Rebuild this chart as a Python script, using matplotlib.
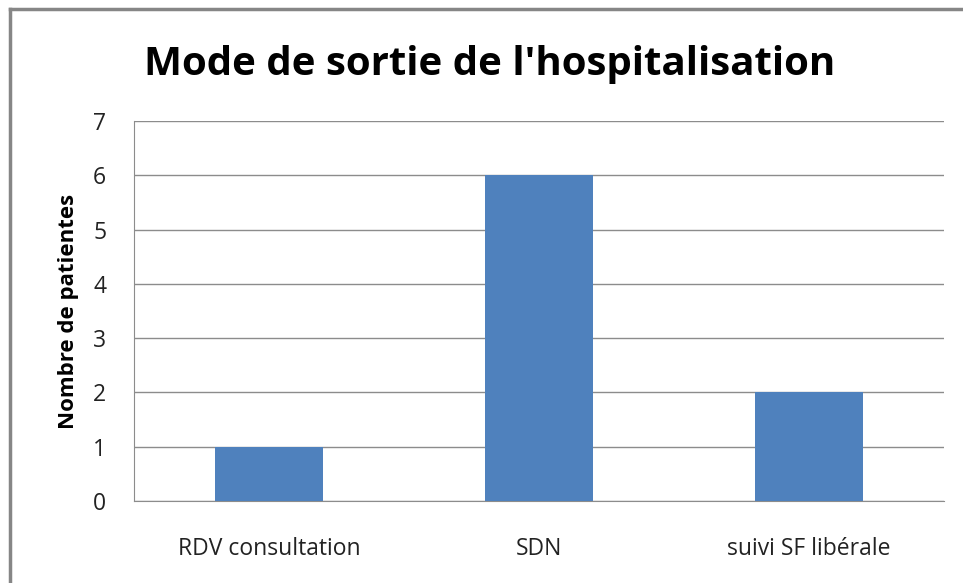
import matplotlib.pyplot as plt
from matplotlib.lines import Line2D

categories = ['RDV consultation', 'SDN', 'suivi SF libérale']
values = [1, 6, 2]
yticks = [0, 1, 2, 3, 4, 5, 6, 7]

plt.rcParams['font.family'] = ['Open Sans', 'DejaVu Sans']

fig = plt.figure(figsize=(9.63, 5.83), dpi=100)
W, H = 963, 583

# outer chart frame (only top and left visible in the crop)
fig.add_artist(Line2D([10 / W, 10 / W], [0, 1 - 9 / H], color='#868686', lw=2.5, transform=fig.transFigure))
fig.add_artist(Line2D([10 / W, 1], [1 - 9 / H, 1 - 9 / H], color='#868686', lw=2.5, transform=fig.transFigure))

ax = fig.add_axes([134 / W, (583 - 501) / H, (944 - 134) / W, (501 - 121) / H])
x = range(len(categories))
ax.bar(x, values, width=0.4, color='#4F81BD', zorder=3)

ax.set_xlim(-0.5, len(categories) - 0.5)
ax.set_ylim(0, 7)
ax.set_yticks(yticks)
ax.set_xticks(list(x))
ax.set_xticklabels(categories, fontsize=16.5, color='#222222')
ax.tick_params(axis='y', labelsize=16.5, length=0, pad=20, colors='#222222')
ax.tick_params(axis='x', length=0, pad=26)
ax.yaxis.grid(True, color='#8c8c8c', lw=1, zorder=0)

for s in ['top', 'right']:
    ax.spines[s].set_visible(False)
for s in ['left', 'bottom']:
    ax.spines[s].set_color('#8c8c8c')

ax.set_ylabel('Nombre de patientes', fontsize=16, fontweight='bold', labelpad=10)
fig.text(490 / W, 1 - 64 / H, "Mode de sortie de l'hospitalisation", fontsize=29,
         fontweight='bold', ha='center', va='center')

plt.savefig('out.png', dpi=100)
